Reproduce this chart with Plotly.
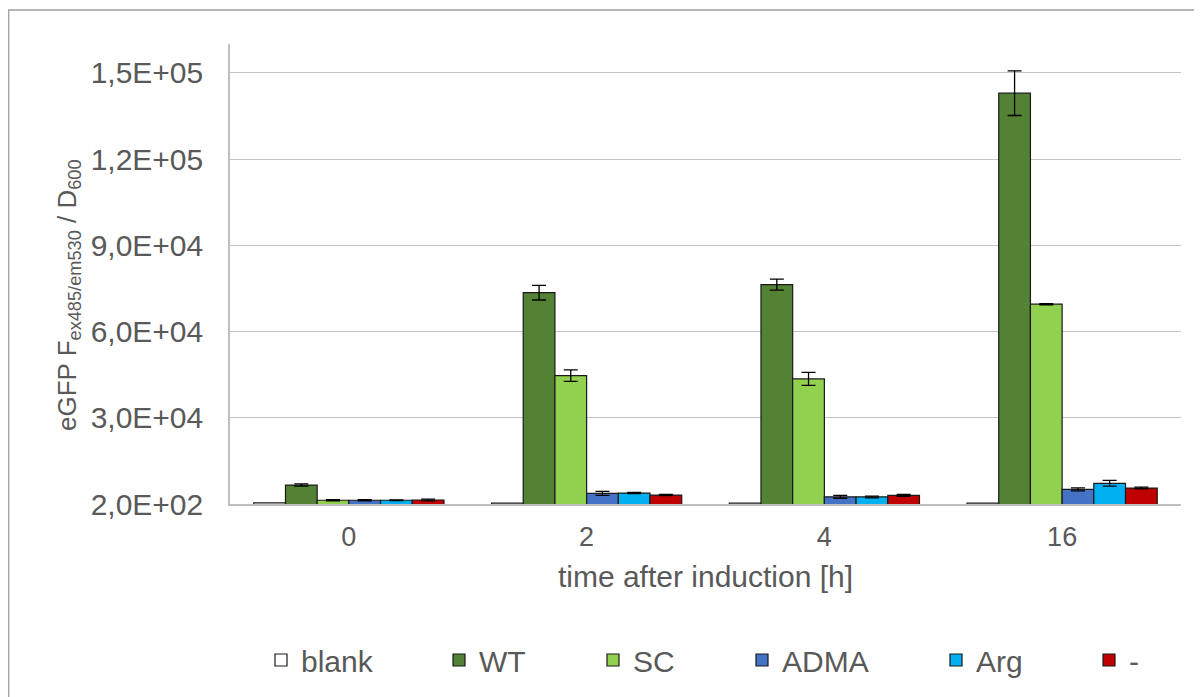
import plotly.graph_objects as go

# ---- data ----
times = ["0", "2", "4", "16"]
series_names = ["blank", "WT", "SC", "ADMA", "Arg", "-"]
blank_vals = [600, 500, 500, 500]
wt_vals = [6800, 73700, 76500, 143100]
wt_err = [400, 2550, 1900, 7770]
sc_vals = [1500, 44850, 43700, 69700]
sc_err = [200, 1980, 2260, 200]
adma_vals = [1500, 3900, 2700, 5300]
adma_err = [200, 700, 500, 500]
arg_vals = [1500, 4000, 2650, 7400]
arg_err = [150, 200, 300, 1000]
minus_vals = [1600, 3300, 3200, 5750]
minus_err = [300, 200, 300, 300]

y_tickvals = [200, 30200, 60200, 90200, 120200, 150200]
y_ticktext = ["2,0E+02", "3,0E+04", "6,0E+04", "9,0E+04", "1,2E+05", "1,5E+05"]
y_range = [200, 160200]
y_title = "eGFP F<sub>ex485/em530</sub> / D<sub>600</sub>"
x_title = "time after induction [h]"

values = [blank_vals, wt_vals, sc_vals, adma_vals, arg_vals, minus_vals]
errors = [None, wt_err, sc_err, adma_err, arg_err, minus_err]
colors = ["#ffffff", "#548235", "#92d050", "#4472c4", "#00b0f0", "#c00000"]

# ---- layout geometry (pixels, figure coordinates; page adds an 8px body margin) ----
W, H = 1194, 689
L, R, T, B = 222, 21, 36, 193
PW, PH = W - L - R, H - T - B
legend_square_center_px = [271, 449, 603, 752, 946, 1099]
legend_center_y_px = 652
ytitle_center_px = (60, 287)

FONT = "Liberation Sans, Arial, sans-serif"
GREY = "#595959"

fig = go.Figure()
for i, (name, vals, err, col) in enumerate(zip(series_names, values, errors, colors)):
    lg = "legend" if i == 0 else f"legend{i+1}"
    kw = {}
    if err is not None:
        kw["error_y"] = dict(type="data", array=err, visible=True, color="#000000",
                             thickness=1.3, width=7)
    fig.add_trace(go.Bar(
        x=times, y=vals, name=name, legend=lg, showlegend=True,
        marker=dict(color=col, line=dict(color="#1a1a1a", width=1.2)),
        **kw))

layout_legends = {}
for i, px in enumerate(legend_square_center_px):
    key = "legend" if i == 0 else f"legend{i+1}"
    layout_legends[key] = dict(
        x=(px - 18 - L) / PW, xanchor="left",
        y=-(legend_center_y_px - (T + PH)) / PH, yanchor="middle",
        orientation="h", bgcolor="rgba(0,0,0,0)",
        font=dict(family=FONT, size=30, color=GREY),
    )

fig.update_layout(
    width=W, height=H, showlegend=True,
    margin=dict(l=L, r=R, t=T, b=B, autoexpand=False),
    paper_bgcolor="white", plot_bgcolor="white",
    barmode="group", bargap=0.2, bargroupgap=0,
    font=dict(family=FONT, color=GREY),
    **layout_legends,
)
fig.update_xaxes(
    type="category", showgrid=False, showline=True, linecolor="#bfbfbf", linewidth=1.5,
    ticks="", tickfont=dict(family=FONT, size=27, color=GREY), ticklabelstandoff=8,
    title=dict(text=x_title, font=dict(family=FONT, size=30, color=GREY), standoff=15),
)
fig.update_yaxes(
    range=y_range, tickvals=y_tickvals, ticktext=y_ticktext,
    showgrid=True, gridcolor="#c4c4c4", gridwidth=1.3,
    showline=True, linecolor="#bfbfbf", linewidth=1.5, zeroline=False,
    ticks="", tickfont=dict(family=FONT, size=30, color=GREY), ticklabelstandoff=19,
)
# y-axis title as a rotated annotation for exact placement
fig.add_annotation(
    text=y_title, textangle=-90, showarrow=False,
    xref="paper", yref="paper",
    x=(ytitle_center_px[0] - L) / PW, y=((T + PH) - ytitle_center_px[1]) / PH,
    xanchor="center", yanchor="middle",
    font=dict(family=FONT, size=26, color=GREY),
)
# outer chart border
fig.add_shape(type="rect", xref="paper", yref="paper",
              x0=(0.7 - L) / PW, x1=(W + 10 - L) / PW,
              y0=-(H + 10 - (T + PH)) / PH, y1=((T + PH) - 2) / PH,
              line=dict(color="#a0a0a0", width=1.3), fillcolor="rgba(0,0,0,0)", layer="below")

fig.write_html("out.html")
